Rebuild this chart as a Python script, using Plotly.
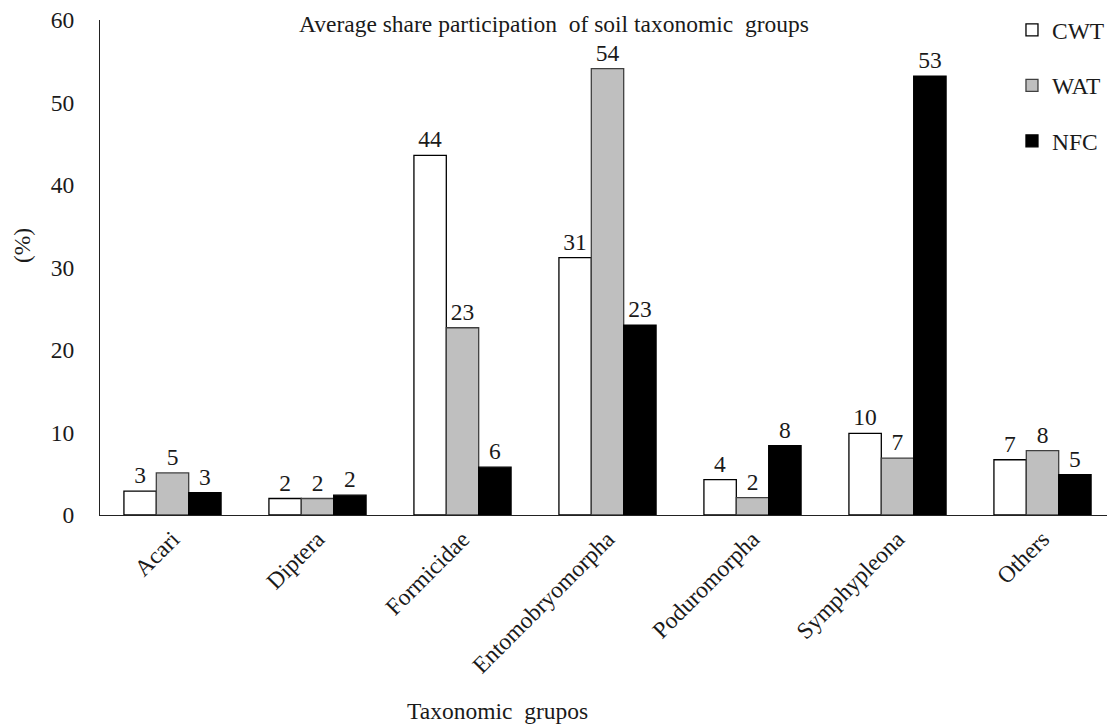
import plotly.graph_objects as go

categories = ["Acari", "Diptera", "Formicidae", "Entomobryomorpha",
              "Poduromorpha", "Symphypleona", "Others"]
cwt = [2.9, 2.0, 43.6, 31.2, 4.3, 9.9, 6.7]
wat = [5.1, 2.0, 22.7, 54.1, 2.1, 6.9, 7.8]
nfc = [2.7, 2.4, 5.8, 23.0, 8.4, 53.2, 4.9]
series_names = ["CWT", "WAT", "NFC"]
fills = ["#FFFFFF", "#BFBFBF", "#000000"]
outlines = ["#000000", "#404040", "#000000"]

FONT = "Liberation Serif"
FS = 23.5
TC = "#1a1a1a"

fig = go.Figure()
for i, (name, vals) in enumerate(zip(series_names, [cwt, wat, nfc])):
    fig.add_trace(go.Bar(
        x=categories, y=vals, name=name, legendgroup=name,
        marker=dict(color=fills[i], line=dict(color=outlines[i], width=1.3)),
        texttemplate="%{y:.0f}", textposition="outside", cliponaxis=False,
        textfont=dict(family=FONT, size=FS, color=TC),
    ))

fig.update_layout(
    width=1107, height=716,
    margin=dict(l=92, r=0, t=11, b=209),
    paper_bgcolor="white", plot_bgcolor="white",
    font=dict(family=FONT, size=FS, color=TC),
    barmode="group", bargap=0.33, bargroupgap=0,
    showlegend=True,
    legend=dict(x=0.8985, y=1.025, xanchor="left", yanchor="top",
                traceorder="grouped", tracegroupgap=22,
                font=dict(family=FONT, size=FS, color=TC),
                bgcolor="rgba(0,0,0,0)"),
    xaxis=dict(showline=True, linecolor="#222222", linewidth=1.3,
               ticks="", tickangle=-45, showgrid=False,
               tickfont=dict(family=FONT, size=FS, color=TC)),
    yaxis=dict(range=[0, 60], dtick=10, showline=True, linecolor="#222222",
               linewidth=1.3, ticks="", showgrid=False, zeroline=False,
               ticklabelstandoff=20, ticklabeloverflow="allow",
               tickfont=dict(family=FONT, size=FS, color=TC)),
    annotations=[
        dict(text="Average share participation  of soil taxonomic  groups",
             xref="paper", yref="paper", x=0.447, y=0.992,
             xanchor="center", yanchor="middle", showarrow=False,
             font=dict(family=FONT, size=FS, color=TC)),
        dict(text="Taxonomic  grupos", xref="paper", yref="paper",
             x=0.392, y=-0.395, xanchor="center", yanchor="middle",
             showarrow=False, font=dict(family=FONT, size=FS, color=TC)),
        dict(text="(%)", xref="paper", yref="paper", x=-0.077, y=0.545,
             xanchor="center", yanchor="middle", textangle=-90,
             showarrow=False, font=dict(family=FONT, size=FS, color=TC)),
    ],
)

fig.write_html("out.html")
